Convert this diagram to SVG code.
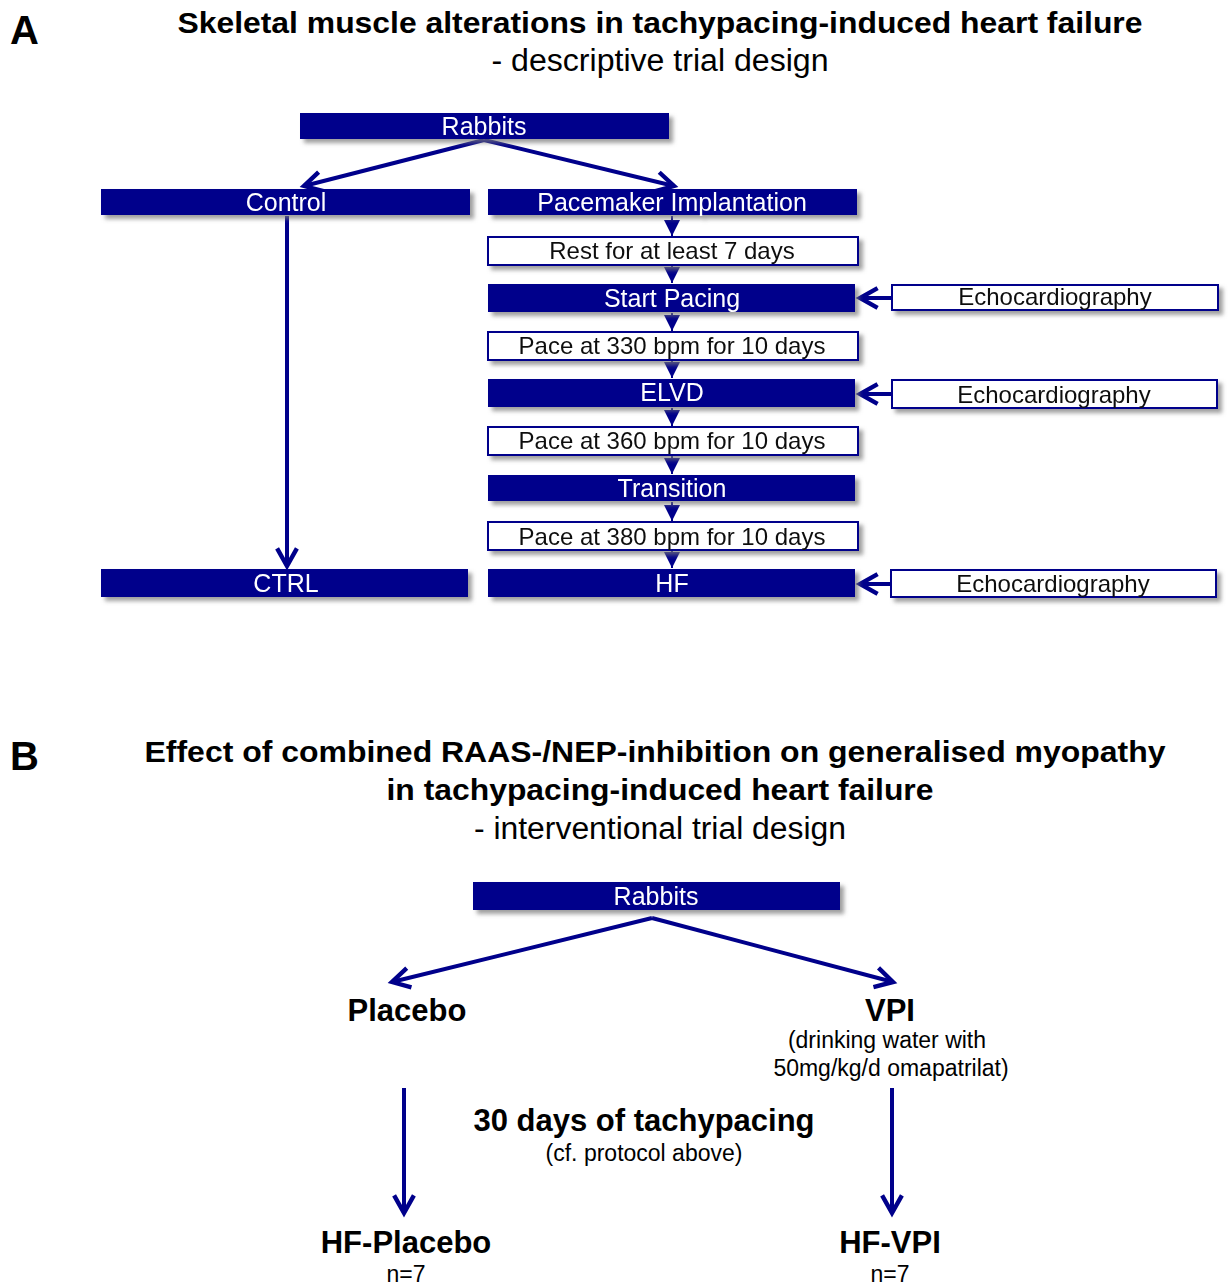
<svg xmlns="http://www.w3.org/2000/svg" width="1230" height="1285" viewBox="0 0 1230 1285">
<style>
.h{font-family:"Liberation Sans",Arial,sans-serif;font-weight:bold;font-size:30px;fill:#000;text-anchor:middle;}
.s{font-family:"Liberation Sans",Arial,sans-serif;font-size:31px;fill:#000;text-anchor:middle;}
.lbl{font-family:"Liberation Sans",Arial,sans-serif;font-weight:bold;font-size:40px;fill:#000;}
.bf{fill:#00008b;}
.bw{fill:#fff;stroke:#00008b;stroke-width:2;}
.wt{font-family:"Liberation Sans",Arial,sans-serif;font-size:25px;fill:#fff;text-anchor:middle;}
.kt{font-family:"Liberation Sans",Arial,sans-serif;font-size:24px;fill:#111;text-anchor:middle;}
.big{font-family:"Liberation Sans",Arial,sans-serif;font-weight:bold;font-size:31px;fill:#000;text-anchor:middle;}
.sm{font-family:"Liberation Sans",Arial,sans-serif;font-size:23px;fill:#000;text-anchor:middle;}
.ar{stroke:#00008b;stroke-width:4;fill:none;marker-end:url(#chev);}
.tri{stroke:#00008b;stroke-width:2;fill:none;marker-end:url(#tri);}
</style>
<defs>
<filter id="sh" x="-5%" y="-30%" width="115%" height="180%">
<feDropShadow dx="4" dy="4" stdDeviation="2" flood-color="#777" flood-opacity="0.7"/>
</filter>
<marker id="chev" viewBox="0 0 10 10" markerWidth="5.5" markerHeight="5.5" refX="9" refY="5" orient="auto" markerUnits="strokeWidth" overflow="visible">
<path d="M1,0.5 L9,5 L1,9.5" fill="none" stroke="#00008b" stroke-width="2" stroke-linejoin="miter"/>
</marker>
<marker id="tri" viewBox="0 0 10 10" markerWidth="8" markerHeight="8" refX="10" refY="5" orient="auto" markerUnits="strokeWidth">
<path d="M0,0 L10,5 L0,10 Z" fill="#00008b"/>
</marker>
</defs>
<rect width="1230" height="1285" fill="#fff"/>

<text class="lbl" x="10" y="44">A</text>
<text class="h" x="660" y="33" textLength="965" lengthAdjust="spacingAndGlyphs">Skeletal muscle alterations in tachypacing-induced heart failure</text>
<text class="s" x="660" y="71" textLength="337" lengthAdjust="spacingAndGlyphs">- descriptive trial design</text>

<g id="connectors-a">
<line class="ar" x1="484" y1="140" x2="304" y2="186"/>
<line class="ar" x1="484" y1="140" x2="674" y2="186"/>
<line class="ar" x1="287" y1="216" x2="287" y2="566"/>
<line class="tri" x1="672" y1="216" x2="672" y2="236"/>
<line class="tri" x1="672" y1="266" x2="672" y2="283"/>
<line class="tri" x1="672" y1="313" x2="672" y2="331"/>
<line class="tri" x1="672" y1="361" x2="672" y2="378"/>
<line class="tri" x1="672" y1="408" x2="672" y2="426"/>
<line class="tri" x1="672" y1="456" x2="672" y2="474"/>
<line class="tri" x1="672" y1="502" x2="672" y2="521"/>
<line class="tri" x1="672" y1="551" x2="672" y2="568"/>
<line class="ar" x1="892" y1="298" x2="860" y2="298"/>
<line class="ar" x1="892" y1="394" x2="860" y2="394"/>
<line class="ar" x1="892" y1="584" x2="860" y2="584"/>
</g>

<g id="rabbits-a" filter="url(#sh)"><rect class="bf" x="300" y="113" width="369" height="26"/><text class="wt" x="484" y="135">Rabbits</text></g>
<g id="control" filter="url(#sh)"><rect class="bf" x="101" y="189" width="369" height="26"/><text class="wt" x="286" y="211">Control</text></g>
<g id="pacemaker" filter="url(#sh)"><rect class="bf" x="488" y="189" width="369" height="26"/><text class="wt" x="672" y="211">Pacemaker Implantation</text></g>
<g id="rest" filter="url(#sh)"><rect class="bw" x="488" y="237" width="370" height="28"/><text class="kt" x="672" y="259">Rest for at least 7 days</text></g>
<g id="start-pacing" filter="url(#sh)"><rect class="bf" x="488" y="284" width="367" height="28"/><text class="wt" x="672" y="307">Start Pacing</text></g>
<g id="pace330" filter="url(#sh)"><rect class="bw" x="488" y="332" width="370" height="28"/><text class="kt" x="672" y="354">Pace at 330 bpm for 10 days</text></g>
<g id="elvd" filter="url(#sh)"><rect class="bf" x="488" y="379" width="367" height="28"/><text class="wt" x="672" y="401">ELVD</text></g>
<g id="pace360" filter="url(#sh)"><rect class="bw" x="488" y="427" width="370" height="28"/><text class="kt" x="672" y="449">Pace at 360 bpm for 10 days</text></g>
<g id="transition" filter="url(#sh)"><rect class="bf" x="488" y="475" width="367" height="26"/><text class="wt" x="672" y="497">Transition</text></g>
<g id="pace380" filter="url(#sh)"><rect class="bw" x="488" y="522" width="370" height="28"/><text class="kt" x="672" y="545">Pace at 380 bpm for 10 days</text></g>
<g id="hf" filter="url(#sh)"><rect class="bf" x="488" y="569" width="367" height="28"/><text class="wt" x="672" y="592">HF</text></g>
<g id="ctrl" filter="url(#sh)"><rect class="bf" x="101" y="569" width="367" height="28"/><text class="wt" x="286" y="592">CTRL</text></g>
<g id="echo1" filter="url(#sh)"><rect class="bw" x="892" y="285" width="326" height="25"/><text class="kt" x="1055" y="305">Echocardiography</text></g>
<g id="echo2" filter="url(#sh)"><rect class="bw" x="892" y="380" width="325" height="28"/><text class="kt" x="1054" y="403">Echocardiography</text></g>
<g id="echo3" filter="url(#sh)"><rect class="bw" x="891" y="570" width="325" height="27"/><text class="kt" x="1053" y="592">Echocardiography</text></g>

<text class="lbl" x="10" y="770">B</text>
<text class="h" x="655" y="762" textLength="1021" lengthAdjust="spacingAndGlyphs">Effect of combined RAAS-/NEP-inhibition on generalised myopathy</text>
<text class="h" x="660" y="800" textLength="547" lengthAdjust="spacingAndGlyphs">in tachypacing-induced heart failure</text>
<text class="s" x="660" y="839" textLength="372" lengthAdjust="spacingAndGlyphs">- interventional trial design</text>

<g id="connectors-b">
<line class="ar" x1="652" y1="918" x2="392" y2="982"/>
<line class="ar" x1="652" y1="918" x2="893" y2="982"/>
<line class="ar" x1="404" y1="1088" x2="404" y2="1213"/>
<line class="ar" x1="892" y1="1088" x2="892" y2="1213"/>
</g>

<g id="rabbits-b" filter="url(#sh)"><rect class="bf" x="473" y="882" width="367" height="28"/><text class="wt" x="656" y="905">Rabbits</text></g>
<g id="placebo"><text class="big" x="407" y="1021">Placebo</text></g>
<g id="vpi"><text class="big" x="890" y="1021">VPI</text>
<text class="sm" x="887" y="1048">(drinking water with</text>
<text class="sm" x="891" y="1076">50mg/kg/d omapatrilat)</text></g>
<g id="tachypacing"><text class="big" x="644" y="1131">30 days of tachypacing</text>
<text class="sm" x="644" y="1161">(cf. protocol above)</text></g>
<g id="hf-placebo"><text class="big" x="406" y="1253">HF-Placebo</text><text class="sm" x="406" y="1282">n=7</text></g>
<g id="hf-vpi"><text class="big" x="890" y="1253">HF-VPI</text><text class="sm" x="890" y="1282">n=7</text></g>
</svg>
